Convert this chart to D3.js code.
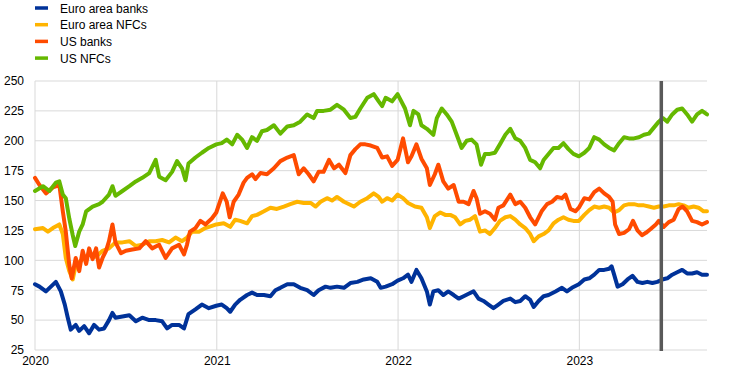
<!DOCTYPE html>
<html>
<head>
<meta charset="utf-8">
<script src="https://cdn.jsdelivr.net/npm/d3@7"></script>
<style>
  body { margin: 0; background: #fff; }
  svg { display: block; font-family: "Liberation Sans", Arial, sans-serif; }
</style>
</head>
<body>
<svg width="744" height="378"></svg>
<script>
// series names + colours (legend order = draw order)
var seriesNames = ['Euro area banks', 'Euro area NFCs', 'US banks', 'US NFCs'];
var seriesColors = ['#003299', '#ffb400', '#ff4b00', '#65b800'];

var yTicks = [25, 50, 75, 100, 125, 150, 175, 200, 225, 250];
var xTicks = ['2020-01-01', '2021-01-01', '2022-01-01', '2023-01-01'];
var xStart = '2020-01-01', xEnd = '2023-09-15';
var markerDate = '2023-06-15';

// values, [date, index]
var euroBanks = [
  ['2020-01-01',80],['2020-01-10',78],['2020-01-23',74],['2020-02-02',78],['2020-02-12',82],['2020-02-22',74],
  ['2020-03-01',63],['2020-03-07',52],['2020-03-13',42],['2020-03-23',46],['2020-03-30',41],['2020-04-09',45],
  ['2020-04-19',39],['2020-04-29',46],['2020-05-09',42],['2020-05-19',43],['2020-05-29',50],['2020-06-05',56],
  ['2020-06-11',52],['2020-06-25',53],['2020-07-09',54],['2020-07-22',49],['2020-08-04',52],['2020-08-18',50],
  ['2020-08-31',50],['2020-09-13',49],['2020-09-23',43],['2020-10-03',46],['2020-10-17',46],['2020-10-27',43],
  ['2020-11-05',55],['2020-11-19',59],['2020-12-02',63],['2020-12-16',60],['2020-12-31',62],
  ['2021-01-11',63],['2021-01-21',60],['2021-01-28',57],['2021-02-07',63],['2021-02-17',67],['2021-03-03',71],
  ['2021-03-13',73],['2021-03-23',71],['2021-04-06',71],['2021-04-19',70],['2021-04-29',75],['2021-05-09',77],
  ['2021-05-23',80],['2021-06-05',80],['2021-06-18',77],['2021-07-02',75],['2021-07-15',71],['2021-07-25',75],
  ['2021-08-08',78],['2021-08-18',77],['2021-08-31',78],['2021-09-14',77],['2021-09-27',81],['2021-10-11',82],
  ['2021-10-24',84],['2021-11-07',85],['2021-11-20',82],['2021-11-27',77],['2021-12-07',78],['2021-12-20',80],
  ['2021-12-31',83],
  ['2022-01-11',85],['2022-01-21',88],['2022-01-28',82],['2022-02-07',92],['2022-02-17',85],['2022-02-28',74],
  ['2022-03-06',63],['2022-03-13',74],['2022-03-23',75],['2022-04-02',71],['2022-04-12',74],['2022-04-23',71],
  ['2022-05-03',68],['2022-05-13',70],['2022-05-23',72],['2022-06-02',74],['2022-06-12',68],['2022-06-22',66],
  ['2022-07-02',63],['2022-07-12',60],['2022-07-22',63],['2022-08-01',66],['2022-08-15',68],['2022-08-25',65],
  ['2022-09-04',66],['2022-09-14',70],['2022-09-24',67],['2022-10-01',61],['2022-10-11',66],['2022-10-21',70],
  ['2022-10-31',71],['2022-11-14',74],['2022-11-27',77],['2022-12-07',74],['2022-12-17',77],['2022-12-31',80],
  ['2023-01-11',84],['2023-01-21',85],['2023-01-31',88],['2023-02-10',92],['2023-02-20',92],['2023-03-02',93],
  ['2023-03-07',95],['2023-03-12',88],['2023-03-19',78],['2023-03-29',80],['2023-04-08',84],['2023-04-18',87],
  ['2023-04-28',82],['2023-05-08',81],['2023-05-18',82],['2023-05-28',81],['2023-06-07',82],['2023-06-17',84],
  ['2023-06-27',85],['2023-07-07',88],['2023-07-17',90],['2023-07-27',92],['2023-08-06',89],['2023-08-16',89],
  ['2023-08-26',90],['2023-09-05',88],['2023-09-15',88]
];

var euroNFCs = [
  ['2020-01-01',126],['2020-01-17',127],['2020-01-27',124],['2020-02-06',127],['2020-02-19',130],['2020-02-26',122],
  ['2020-03-03',102],['2020-03-10',91],['2020-03-17',84],['2020-03-23',96],['2020-04-06',101],['2020-04-19',105],
  ['2020-05-03',103],['2020-05-16',108],['2020-05-29',110],['2020-06-11',115],['2020-06-25',115],['2020-07-09',116],
  ['2020-07-22',112],['2020-08-04',113],['2020-08-18',116],['2020-08-31',116],['2020-09-13',117],['2020-09-27',115],
  ['2020-10-10',119],['2020-10-23',116],['2020-11-02',119],['2020-11-12',124],['2020-11-26',124],['2020-12-09',127],
  ['2020-12-31',130],
  ['2021-01-15',131],['2021-01-28',128],['2021-02-07',134],['2021-02-17',133],['2021-03-03',131],['2021-03-13',137],
  ['2021-03-23',138],['2021-04-06',141],['2021-04-19',144],['2021-05-02',143],['2021-05-16',145],['2021-05-29',147],
  ['2021-06-12',149],['2021-06-25',148],['2021-07-09',148],['2021-07-19',145],['2021-07-29',149],['2021-08-11',152],
  ['2021-08-21',150],['2021-08-31',153],['2021-09-14',149],['2021-10-04',145],['2021-10-17',149],['2021-10-31',152],
  ['2021-11-13',156],['2021-11-23',153],['2021-11-30',149],['2021-12-10',152],['2021-12-20',150],['2021-12-31',155],
  ['2022-01-11',152],['2022-01-21',148],['2022-02-04',145],['2022-02-17',144],['2022-02-28',136],['2022-03-06',127],
  ['2022-03-16',137],['2022-03-27',140],['2022-04-06',138],['2022-04-16',138],['2022-04-26',136],['2022-05-06',130],
  ['2022-05-16',133],['2022-05-26',134],['2022-06-05',137],['2022-06-15',124],['2022-06-25',125],['2022-07-05',122],
  ['2022-07-15',127],['2022-07-25',133],['2022-08-05',136],['2022-08-15',137],['2022-08-25',134],['2022-09-04',130],
  ['2022-09-14',127],['2022-09-24',122],['2022-10-01',116],['2022-10-11',120],['2022-10-21',122],['2022-10-31',125],
  ['2022-11-10',131],['2022-11-20',134],['2022-11-30',136],['2022-12-10',134],['2022-12-20',133],['2022-12-31',133],
  ['2023-01-11',138],['2023-01-21',142],['2023-01-31',145],['2023-02-10',144],['2023-02-20',145],['2023-03-02',144],
  ['2023-03-12',140],['2023-03-22',142],['2023-04-01',146],['2023-04-11',147],['2023-04-21',147],['2023-05-01',146],
  ['2023-05-11',146],['2023-05-21',145],['2023-05-31',144],['2023-06-10',145],['2023-06-20',145],['2023-06-30',146],
  ['2023-07-10',146],['2023-07-20',147],['2023-07-30',146],['2023-08-09',144],['2023-08-19',145],['2023-08-29',144],
  ['2023-09-08',141],['2023-09-15',141]
];

var usBanks = [
  ['2020-01-01',169],['2020-01-10',163],['2020-01-23',156],['2020-02-06',161],['2020-02-19',163],['2020-02-26',141],
  ['2020-03-03',124],['2020-03-10',96],['2020-03-15',85],['2020-03-23',102],['2020-03-30',91],['2020-04-06',108],
  ['2020-04-13',97],['2020-04-19',110],['2020-04-26',101],['2020-05-03',110],['2020-05-09',94],['2020-05-16',102],
  ['2020-05-23',108],['2020-05-29',116],['2020-06-05',130],['2020-06-11',115],['2020-06-22',106],['2020-07-02',108],
  ['2020-07-15',109],['2020-07-29',110],['2020-08-11',116],['2020-08-24',110],['2020-09-07',113],['2020-09-20',102],
  ['2020-10-03',110],['2020-10-17',113],['2020-10-27',105],['2020-11-02',113],['2020-11-08',124],['2020-11-19',127],
  ['2020-11-29',133],['2020-12-09',130],['2020-12-22',135],['2020-12-31',140],
  ['2021-01-13',156],['2021-01-21',149],['2021-01-27',136],['2021-02-04',149],['2021-02-14',155],['2021-02-24',165],
  ['2021-03-03',169],['2021-03-13',172],['2021-03-20',168],['2021-03-30',173],['2021-04-12',172],['2021-04-26',177],
  ['2021-05-09',183],['2021-05-23',186],['2021-06-05',188],['2021-06-15',172],['2021-06-25',177],['2021-07-05',172],
  ['2021-07-15',166],['2021-07-25',174],['2021-08-04',174],['2021-08-15',184],['2021-08-25',177],['2021-09-04',180],
  ['2021-09-17',173],['2021-09-27',188],['2021-10-07',193],['2021-10-17',197],['2021-10-27',197],['2021-11-07',196],
  ['2021-11-20',194],['2021-11-30',186],['2021-12-10',187],['2021-12-20',179],['2021-12-31',184],
  ['2022-01-11',202],['2022-01-21',182],['2022-01-28',187],['2022-02-07',197],['2022-02-17',185],['2022-02-28',177],
  ['2022-03-06',163],['2022-03-16',172],['2022-03-23',180],['2022-04-02',166],['2022-04-12',160],['2022-04-23',163],
  ['2022-05-03',149],['2022-05-13',149],['2022-05-23',147],['2022-06-02',158],['2022-06-08',152],['2022-06-15',139],
  ['2022-06-25',141],['2022-07-05',139],['2022-07-15',134],['2022-07-22',144],['2022-08-01',146],['2022-08-15',155],
  ['2022-08-25',147],['2022-09-04',149],['2022-09-14',144],['2022-09-24',136],['2022-10-04',130],['2022-10-11',136],
  ['2022-10-17',141],['2022-10-28',147],['2022-11-07',149],['2022-11-17',153],['2022-11-27',152],['2022-12-04',155],
  ['2022-12-14',143],['2022-12-24',141],['2022-12-31',144],
  ['2023-01-11',152],['2023-01-21',151],['2023-01-31',157],['2023-02-10',160],['2023-02-20',156],['2023-03-02',153],
  ['2023-03-09',149],['2023-03-14',130],['2023-03-22',122],['2023-04-01',123],['2023-04-11',126],['2023-04-19',133],
  ['2023-04-28',125],['2023-05-07',121],['2023-05-15',123],['2023-05-24',126],['2023-06-04',130],['2023-06-10',133],
  ['2023-06-20',128],['2023-06-30',132],['2023-07-10',134],['2023-07-20',143],['2023-07-28',145],['2023-08-06',141],
  ['2023-08-16',133],['2023-08-26',132],['2023-09-05',130],['2023-09-15',132]
];

var usNFCs = [
  ['2020-01-01',158],['2020-01-17',162],['2020-01-30',158],['2020-02-12',165],['2020-02-19',166],['2020-02-26',155],
  ['2020-03-03',152],['2020-03-10',135],['2020-03-17',121],['2020-03-22',112],['2020-03-30',124],['2020-04-06',130],
  ['2020-04-13',141],['2020-04-26',145],['2020-05-09',147],['2020-05-16',149],['2020-05-29',155],['2020-06-05',162],
  ['2020-06-11',154],['2020-06-25',158],['2020-07-09',162],['2020-07-22',166],['2020-08-04',169],['2020-08-18',173],
  ['2020-08-31',184],['2020-09-07',170],['2020-09-20',167],['2020-10-03',174],['2020-10-13',183],['2020-10-23',177],
  ['2020-10-30',167],['2020-11-05',181],['2020-11-19',186],['2020-12-02',190],['2020-12-16',194],['2020-12-31',197],
  ['2021-01-11',198],['2021-01-21',201],['2021-02-01',197],['2021-02-11',205],['2021-02-21',201],['2021-03-03',194],
  ['2021-03-13',203],['2021-03-23',200],['2021-04-02',208],['2021-04-12',209],['2021-04-26',213],['2021-05-09',206],
  ['2021-05-23',212],['2021-06-05',213],['2021-06-18',216],['2021-07-02',222],['2021-07-15',219],['2021-07-22',225],
  ['2021-08-04',225],['2021-08-18',226],['2021-08-31',230],['2021-09-14',226],['2021-09-27',219],['2021-10-07',220],
  ['2021-10-17',227],['2021-10-31',236],['2021-11-13',239],['2021-11-23',233],['2021-11-30',229],['2021-12-07',236],
  ['2021-12-20',233],['2021-12-31',239],
  ['2022-01-15',227],['2022-01-25',213],['2022-02-01',225],['2022-02-11',222],['2022-02-17',213],['2022-02-28',210],
  ['2022-03-13',205],['2022-03-20',219],['2022-03-30',227],['2022-04-09',222],['2022-04-19',216],['2022-04-29',205],
  ['2022-05-09',194],['2022-05-19',200],['2022-05-29',201],['2022-06-08',197],['2022-06-17',180],['2022-06-25',189],
  ['2022-07-05',189],['2022-07-15',190],['2022-07-25',197],['2022-08-05',205],['2022-08-15',210],['2022-08-25',202],
  ['2022-09-04',200],['2022-09-14',194],['2022-09-24',184],['2022-10-04',182],['2022-10-14',177],['2022-10-21',184],
  ['2022-10-31',189],['2022-11-10',194],['2022-11-20',194],['2022-11-30',198],['2022-12-10',193],['2022-12-20',189],
  ['2022-12-31',187],
  ['2023-01-11',190],['2023-01-21',194],['2023-01-31',203],['2023-02-10',201],['2023-02-20',197],['2023-03-02',194],
  ['2023-03-12',192],['2023-03-22',198],['2023-04-01',203],['2023-04-11',202],['2023-04-21',202],['2023-05-01',203],
  ['2023-05-11',205],['2023-05-21',206],['2023-05-31',211],['2023-06-10',216],['2023-06-18',219],['2023-06-27',216],
  ['2023-07-07',222],['2023-07-17',226],['2023-07-27',227],['2023-08-06',222],['2023-08-16',216],['2023-08-26',222],
  ['2023-09-05',225],['2023-09-15',222]
];

var allSeries = [euroBanks, euroNFCs, usBanks, usNFCs];

var parse = d3.timeParse('%Y-%m-%d');
var svg = d3.select('svg');

var x = d3.scaleTime().domain([parse(xStart), parse(xEnd)]).range([35, 707]);
var y = d3.scaleLinear().domain([25, 250]).range([350, 81]);

// horizontal grid
svg.append('g').selectAll('line')
    .data(yTicks)
    .enter().append('line')
    .attr('x1', 35).attr('x2', 707)
    .attr('y1', d => y(d)).attr('y2', d => y(d))
    .attr('stroke', '#d9d9d9').attr('stroke-width', 1);

// vertical year lines
svg.append('g').selectAll('line')
    .data(xTicks)
    .enter().append('line')
    .attr('x1', d => x(parse(d))).attr('x2', d => x(parse(d)))
    .attr('y1', y(250)).attr('y2', y(25))
    .attr('stroke', '#d9d9d9').attr('stroke-width', 1);

// y axis labels
var yAxis = svg.append('g')
    .attr('transform', 'translate(24,0)')
    .call(d3.axisLeft(y).tickValues(yTicks).tickSize(0).tickPadding(0));
yAxis.select('.domain').remove();
yAxis.selectAll('text').attr('font-size', 12).attr('fill', '#000')
    .attr('font-family', '"Liberation Sans", Arial, sans-serif');

// x axis labels
var xAxis = svg.append('g')
    .attr('transform', 'translate(0,' + 356 + ')')
    .call(d3.axisBottom(x).tickValues(xTicks.map(parse)).tickFormat(d3.timeFormat('%Y')).tickSize(0).tickPadding(0));
xAxis.select('.domain').remove();
xAxis.selectAll('text').attr('font-size', 12).attr('fill', '#000')
    .attr('font-family', '"Liberation Sans", Arial, sans-serif');

// lines
var line = d3.line()
    .x(d => x(parse(d[0])))
    .y(d => y(d[1]));

svg.append('g').selectAll('path')
    .data(allSeries)
    .enter().append('path')
    .attr('d', line)
    .attr('fill', 'none')
    .attr('stroke', (d, i) => seriesColors[i])
    .attr('stroke-width', 4)
    .attr('stroke-linejoin', 'round')
    .attr('stroke-linecap', 'round');

// vertical marker
svg.append('line')
    .attr('x1', x(parse(markerDate))).attr('x2', x(parse(markerDate)))
    .attr('y1', y(250)).attr('y2', y(25) + 1)
    .attr('stroke', '#595959').attr('stroke-width', 3.5);

// legend
var leg = svg.append('g').selectAll('g')
    .data(seriesNames)
    .enter().append('g')
    .attr('transform', (d, i) => 'translate(35,' + (8 + i * 16.7) + ')');
leg.append('rect')
    .attr('x', 0).attr('y', -1.75).attr('width', 13).attr('height', 3.5)
    .attr('fill', (d, i) => seriesColors[i]);
leg.append('text')
    .attr('x', 25).attr('y', 4.5)
    .attr('font-size', 12)
    .attr('fill', '#000')
    .text(d => d);
</script>
</body>
</html>
